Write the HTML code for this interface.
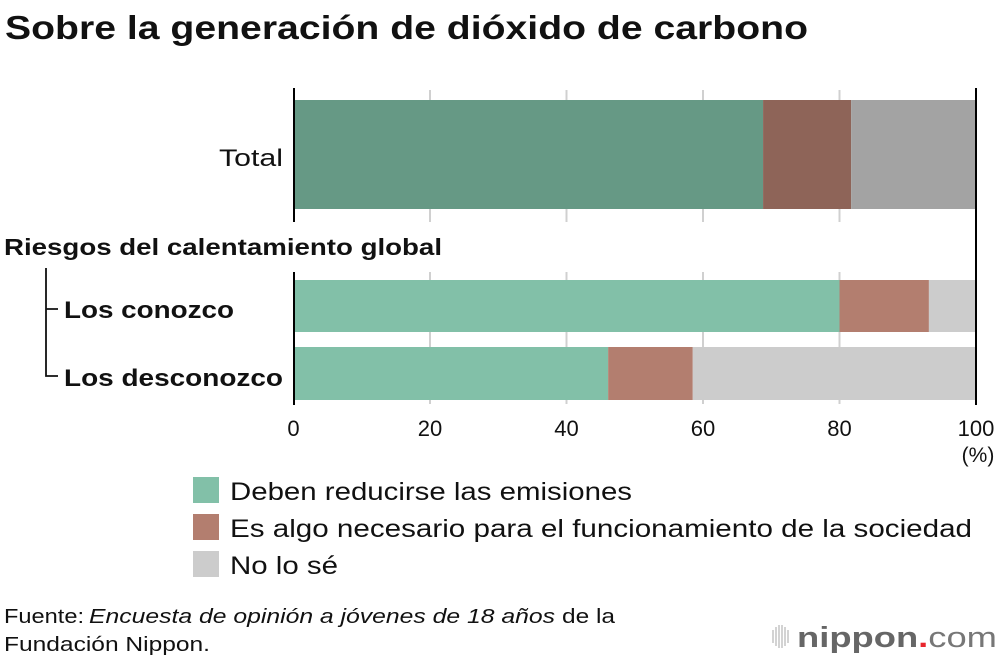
<!DOCTYPE html>
<html><head><meta charset="utf-8"><style>
body{margin:0;background:#fff;width:1000px;height:660px;overflow:hidden;font-family:"Liberation Sans",sans-serif;}
</style></head><body>
<svg width="1000" height="660" font-family="Liberation Sans, sans-serif">
<text x="5" y="39" font-size="33" font-weight="bold" fill="#111" textLength="803" lengthAdjust="spacingAndGlyphs">Sobre la generación de dióxido de carbono</text>
<g id="grid"></g>
<g id="bars"></g>
<line x1="294" y1="88" x2="294" y2="222" stroke="#000" stroke-width="2"/>
<line x1="294" y1="272" x2="294" y2="405" stroke="#000" stroke-width="2"/>
<line x1="976" y1="88" x2="976" y2="405" stroke="#000" stroke-width="2"/>
<text x="219" y="166" font-size="24" fill="#111" textLength="64" lengthAdjust="spacingAndGlyphs">Total</text>
<text x="4" y="255" font-size="23" font-weight="bold" fill="#111" textLength="438" lengthAdjust="spacingAndGlyphs">Riesgos del calentamiento global</text>
<path d="M46 268 V376 H58 M46 309 H58" fill="none" stroke="#111" stroke-width="1.8"/>
<text x="64" y="318" font-size="24" font-weight="bold" fill="#111" textLength="170" lengthAdjust="spacingAndGlyphs">Los conozco</text>
<text x="64" y="386" font-size="24" font-weight="bold" fill="#111" textLength="219" lengthAdjust="spacingAndGlyphs">Los desconozco</text>
<g id="ticks"></g>
<text x="978" y="462" font-size="21" text-anchor="middle" fill="#111">(%)</text>
<g>
<rect x="193" y="477" width="26" height="26" fill="#82c0a8"/>
<text x="230" y="500" font-size="25" fill="#111" textLength="402" lengthAdjust="spacingAndGlyphs">Deben reducirse las emisiones</text>
<rect x="193" y="514" width="26" height="26" fill="#b37e6f"/>
<text x="230" y="537" font-size="25" fill="#111" textLength="742" lengthAdjust="spacingAndGlyphs">Es algo necesario para el funcionamiento de la sociedad</text>
<rect x="193" y="551" width="26" height="26" fill="#cccccc"/>
<text x="230" y="574" font-size="25" fill="#111" textLength="108" lengthAdjust="spacingAndGlyphs">No lo sé</text>
</g>
<g font-size="20" fill="#111">
<text x="4" y="623" textLength="80" lengthAdjust="spacingAndGlyphs">Fuente:</text>
<text x="89" y="623" font-style="italic" textLength="466" lengthAdjust="spacingAndGlyphs">Encuesta de opinión a jóvenes de 18 años</text>
<text x="562" y="623" textLength="53" lengthAdjust="spacingAndGlyphs">de la</text>
<text x="4" y="651" textLength="206" lengthAdjust="spacingAndGlyphs">Fundación Nippon.</text>
</g>
<g>
<g stroke="#bbb" stroke-width="1.3">
<line x1="773" y1="630" x2="773" y2="643"/><line x1="776" y1="627" x2="776" y2="646"/><line x1="779" y1="625" x2="779" y2="648"/><line x1="782" y1="625" x2="782" y2="648"/><line x1="785" y1="627" x2="785" y2="646"/><line x1="788" y1="630" x2="788" y2="643"/>
</g>
<text x="797" y="647" font-size="29" font-weight="bold" fill="#666" textLength="200" lengthAdjust="spacingAndGlyphs">nippon<tspan fill="#e8262d">.</tspan><tspan font-weight="normal" fill="#777">com</tspan></text>
</g>
</svg>
<script>
const categories=["Total","Los conozco","Los desconozco"];
const reduceVals=[68.8,80.0,46.1];
const necessaryVals=[12.9,13.1,12.4];
const unknownVals=[18.3,6.9,41.5];
const tickLabels=[0,20,40,60,80,100];
const x0=293.5,x1=976;
const xs=v=>x0+(x1-x0)*v/100;
const rows=[{y:100,h:109},{y:280,h:52},{y:347,h:53}];
const dark=[true,false,false];
const NS="http://www.w3.org/2000/svg";
const grid=document.getElementById('grid'),bars=document.getElementById('bars'),ticks=document.getElementById('ticks');
tickLabels.forEach(t=>{
 if(t>0&&t<100){
  [[90,222],[272,404]].forEach(([a,b])=>{
   const l=document.createElementNS(NS,'line');
   l.setAttribute('x1',xs(t));l.setAttribute('x2',xs(t));l.setAttribute('y1',a);l.setAttribute('y2',b);
   l.setAttribute('stroke','#d0d0d0');l.setAttribute('stroke-width','2');
   
   
   grid.appendChild(l);
  });
 }
 const tx=document.createElementNS(NS,'text');
 tx.setAttribute('x',xs(t));tx.setAttribute('y',436);tx.setAttribute('font-size','22');tx.setAttribute('text-anchor','middle');tx.setAttribute('fill','#111');
 tx.textContent=t;
 
 
 ticks.appendChild(tx);
});
categories.forEach((c,i)=>{
 const segs=[[reduceVals[i],dark[i]?'#669985':'#82c0a8','reduce'],[necessaryVals[i],dark[i]?'#8e6458':'#b37e6f','necessary'],[unknownVals[i],dark[i]?'#a3a3a3':'#cccccc','unknown']];
 let acc=0;
 segs.forEach(([v,col,n])=>{
  const r=document.createElementNS(NS,'rect');
  r.setAttribute('x',xs(acc));r.setAttribute('width',xs(acc+v)-xs(acc));
  r.setAttribute('y',rows[i].y);r.setAttribute('height',rows[i].h);r.setAttribute('fill',col);
  
  
  bars.appendChild(r);acc+=v;
 });
});
</script>
</body></html>
